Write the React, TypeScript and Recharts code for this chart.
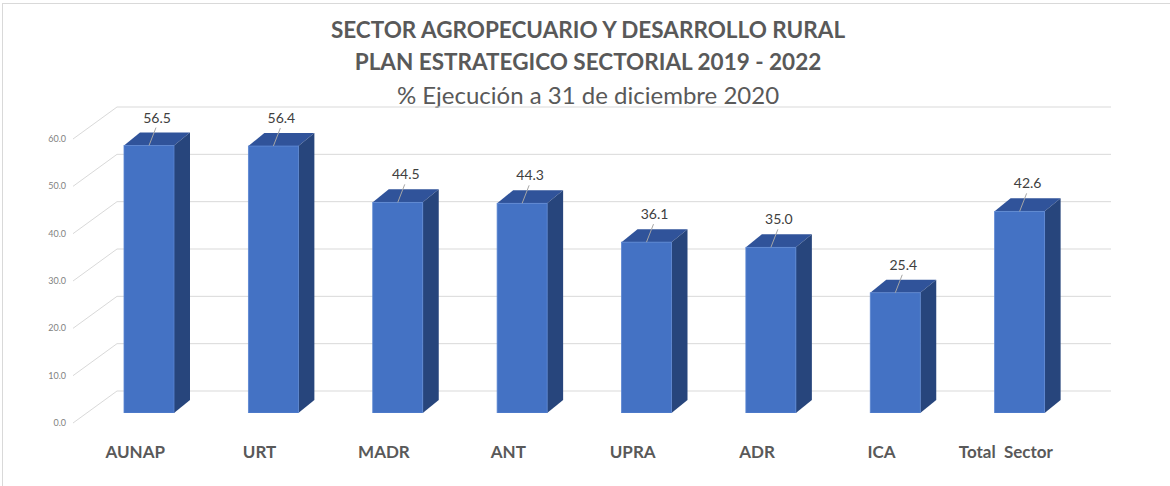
import React from "react";
import {
  BarChart,
  Bar,
  XAxis,
  YAxis,
  CartesianGrid,
  LabelList,
} from "recharts";

const categories = ["AUNAP", "URT", "MADR", "ANT", "UPRA", "ADR", "ICA", "Total  Sector"];
const ejecucion = [56.5, 56.4, 44.5, 44.3, 36.1, 35.0, 25.4, 42.6];
const yTicks = [0, 10, 20, 30, 40, 50, 60];

const data = categories.map((name, i) => ({ name, value: ejecucion[i] }));

const FONT = "Lato, 'Open Sans', sans-serif";
const DX = 16;
const DY = 13;
const WALL_LEFT = 117;
const WALL_RIGHT = 1111;

const Bar3D = (props: any) => {
  const { x, y, width, height } = props;
  return (
    <g>
      <polygon
        points={`${x},${y} ${x + DX},${y - DY} ${x + width + DX},${y - DY} ${x + width},${y}`}
        fill="#30539A"
      />
      <polygon
        points={`${x + width},${y} ${x + width + DX},${y - DY} ${x + width + DX},${y + height - DY} ${x + width},${y + height}`}
        fill="#27457C"
      />
      <rect x={x} y={y} width={width} height={height} fill="#4472C4" stroke="#5B86D2" strokeWidth={0.8} />
    </g>
  );
};

const GridLine = (props: any) => {
  const { y1 } = props;
  const back = y1 - 22;
  return (
    <g key={`g-${y1}`}>
      <line x1={73} y1={y1 + 10} x2={WALL_LEFT} y2={back} stroke="#D9D9D9" strokeWidth={1} />
      <line x1={WALL_LEFT} y1={back} x2={WALL_RIGHT} y2={back} stroke="#D9D9D9" strokeWidth={1} />
    </g>
  );
};

const YTick = (props: any) => {
  const { y, payload } = props;
  return (
    <text x={66} y={y + 13} textAnchor="end" fontSize={9} fill="#7F7F7F" fontFamily={FONT}>
      {Number(payload.value).toFixed(1)}
    </text>
  );
};

const XTick = (props: any) => {
  const { x, y, payload } = props;
  return (
    <text x={x - 14} y={y + 37} textAnchor="middle" fontSize={17} fontWeight={700} fill="#595959" fontFamily={FONT} style={{ whiteSpace: "pre" }}>
      {payload.value}
    </text>
  );
};

const ValueLabel = (props: any) => {
  const { x, y, width, value } = props;
  const cx = x + width / 2;
  return (
    <g>
      <line x1={cx} y1={y} x2={cx + 7} y2={y - 18} stroke="#A6A6A6" strokeWidth={1} />
      <text x={cx + 8} y={y - 23} textAnchor="middle" fontSize={14} fill="#404040" fontFamily={FONT}>
        {Number(value).toFixed(1)}
      </text>
    </g>
  );
};

export default function App() {
  return (
    <div
      style={{
        position: "absolute",
        left: 0,
        top: 0,
        width: 1170,
        height: 486,
        background: "#fff",
        fontFamily: FONT,
      }}
    >
      <div
        style={{
          position: "absolute",
          left: 2,
          top: 3,
          width: 1168,
          height: 483,
          borderTop: "1px solid #D9D9D9",
          borderLeft: "1px solid #D9D9D9",
        }}
      />
      <div style={{ position: "absolute", left: 0, top: 14, width: 1176, textAlign: "center", color: "#595959" }}>
        <div style={{ fontSize: 22.5, fontWeight: 700, lineHeight: "32px" }}>SECTOR AGROPECUARIO Y DESARROLLO RURAL</div>
        <div style={{ fontSize: 22.5, fontWeight: 700, lineHeight: "32px" }}>PLAN ESTRATEGICO SECTORIAL 2019 - 2022</div>
        <div style={{ fontSize: 24, fontWeight: 400, lineHeight: "34px" }}>% Ejecución a 31 de diciembre 2020</div>
      </div>
      <div style={{ position: "absolute", left: 0, top: 0 }}>
        <BarChart width={1170} height={486} data={data} margin={{ top: 129, right: 88, bottom: 43, left: 0 }}>
          <CartesianGrid vertical={false} horizontal={GridLine} />
          <XAxis dataKey="name" axisLine={false} tickLine={false} tick={XTick} height={30} interval={0} />
          <YAxis
            domain={[0, 60]}
            ticks={yTicks}
            width={87}
            axisLine={false}
            tickLine={false}
            tick={YTick}
            allowDataOverflow
          />
          <Bar dataKey="value" barSize={50} shape={Bar3D} isAnimationActive={false}>
            <LabelList dataKey="value" content={ValueLabel} />
          </Bar>
        </BarChart>
      </div>
    </div>
  );
}
